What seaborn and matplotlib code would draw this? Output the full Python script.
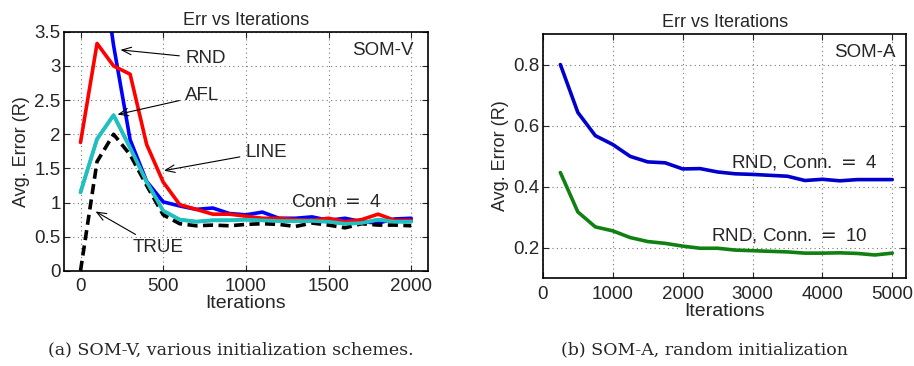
import numpy as np
import pandas as pd
import matplotlib
matplotlib.use("Agg")
import matplotlib.pyplot as plt
import seaborn as sns

# ---- left panel: SOM-V, various initialization schemes ----
iters_v = [0, 100, 200, 300, 400, 500, 600, 700, 800, 900, 1000,
           1100, 1200, 1300, 1400, 1500, 1600, 1700, 1800, 1900, 2000]
rnd_v = [7.0, 5.0, 3.3, 1.92, 1.31, 1.01, 0.95, 0.90, 0.92, 0.84, 0.82,
         0.86, 0.77, 0.77, 0.79, 0.74, 0.77, 0.72, 0.70, 0.76, 0.77]
line_v = [1.88, 3.33, 3.0, 2.88, 1.85, 1.30, 0.97, 0.90, 0.83, 0.83, 0.80,
          0.77, 0.77, 0.75, 0.74, 0.77, 0.72, 0.75, 0.83, 0.74, 0.74]
afl_v = [1.15, 1.93, 2.28, 1.80, 1.30, 0.88, 0.75, 0.72, 0.74, 0.74, 0.75,
         0.74, 0.73, 0.73, 0.73, 0.72, 0.69, 0.70, 0.75, 0.72, 0.72]
true_v = [0.0, 1.60, 2.00, 1.70, 1.25, 0.82, 0.69, 0.66, 0.67, 0.66, 0.68,
          0.69, 0.68, 0.65, 0.70, 0.67, 0.63, 0.69, 0.67, 0.67, 0.66]

# ---- right panel: SOM-A, random initialization ----
iters_a = [250, 500, 750, 1000, 1250, 1500, 1750, 2000, 2250, 2500,
           2750, 3000, 3250, 3500, 3750, 4000, 4250, 4500, 4750, 5000]
conn4_a = [0.80, 0.643, 0.567, 0.538, 0.499, 0.481, 0.478, 0.458, 0.459, 0.448,
           0.442, 0.440, 0.437, 0.434, 0.420, 0.424, 0.419, 0.423, 0.423, 0.423]
conn10_a = [0.446, 0.317, 0.268, 0.255, 0.233, 0.220, 0.214, 0.205, 0.198, 0.198,
            0.192, 0.190, 0.188, 0.186, 0.182, 0.182, 0.183, 0.181, 0.176, 0.182]

sns.set_style("ticks")
plt.rcParams['font.family'] = ['Liberation Sans', 'DejaVu Sans']
plt.rcParams['mathtext.fontset'] = 'dejavusans'

fig = plt.figure(figsize=(9.14, 3.66), dpi=100)
ax1 = fig.add_axes([0.070, 0.260, 0.398, 0.653])
ax2 = fig.add_axes([0.594, 0.240, 0.3975, 0.667])

lw = 2.6
sns.lineplot(x=iters_v, y=rnd_v, color='#0000ff', lw=lw, ax=ax1)
sns.lineplot(x=iters_v, y=afl_v, color='#20c0c0', lw=lw, ax=ax1)
sns.lineplot(x=iters_v, y=true_v, color='black', lw=lw, ax=ax1, linestyle=(0, (2.8, 1.5)))
sns.lineplot(x=iters_v, y=line_v, color='#ff0000', lw=lw, ax=ax1)
# cyan on top again, as in the original tail
sns.lineplot(x=iters_v, y=afl_v, color='#20c0c0', lw=lw, ax=ax1)

sns.lineplot(x=iters_a, y=conn4_a, color='#0000cc', lw=lw, ax=ax2)
sns.lineplot(x=iters_a, y=conn10_a, color='#108010', lw=lw, ax=ax2)

ax1.set_xlim(-100, 2100)
ax1.set_ylim(0, 3.5)
ax1.set_xticks([0, 500, 1000, 1500, 2000])
ax1.set_yticks(np.arange(0, 3.51, 0.5))
ax1.set_yticklabels(['0', '0.5', '1', '1.5', '2', '2.5', '3', '3.5'])

ax2.set_xlim(0, 5200)
ax2.set_ylim(0.1, 0.9)
ax2.set_xticks([0, 1000, 2000, 3000, 4000, 5000])
ax2.set_yticks([0.2, 0.4, 0.6, 0.8])

for ax in (ax1, ax2):
    ax.grid(True, linestyle=(0, (1, 3)), color='#777777', lw=0.8)
    ax.tick_params(direction='in', labelsize=13.5, length=4, width=0.8,
                   top=True, right=True)
    ax.tick_params(axis='x', pad=5.5)
    ax.tick_params(axis='y', pad=2.5)
    for s in ax.spines.values():
        s.set_visible(True)
        s.set_linewidth(1.2)
        s.set_color('black')
    ax.set_title('Err vs Iterations', fontsize=13, pad=5)
    ax.set_xlabel('Iterations', fontsize=14, labelpad=0)
    ax.set_ylabel('Avg. Error (R)', fontsize=13, labelpad=3)

# annotations on left panel
arr = dict(arrowstyle='->,head_length=0.5,head_width=0.2', color='black', lw=0.8)
ax1.annotate('RND', xy=(225, 3.24), xytext=(634, 3.11), fontsize=13.5,
             va='center', ha='left', arrowprops=arr)
ax1.annotate('AFL', xy=(207, 2.28), xytext=(634, 2.57), fontsize=13.5,
             va='center', ha='left', arrowprops=arr)
ax1.annotate('LINE', xy=(488, 1.46), xytext=(1000, 1.74), fontsize=13.5,
             va='center', ha='left', arrowprops=arr)
ax1.annotate('TRUE', xy=(76, 0.89), xytext=(317, 0.34), fontsize=13.5,
             va='center', ha='left', arrowprops=arr)
ax1.text(1271, 1.0, 'Conn $=$ 4', fontsize=13.5, va='center', ha='left')
ax1.text(0.96, 0.92, 'SOM-V', transform=ax1.transAxes, fontsize=13.5,
         va='center', ha='right')

ax2.text(2690, 0.479, 'RND, Conn. $=$ 4', fontsize=13.5, va='center', ha='left')
ax2.text(2400, 0.240, 'RND, Conn. $=$ 10', fontsize=13.5, va='center', ha='left')
ax2.text(0.97, 0.925, 'SOM-A', transform=ax2.transAxes, fontsize=13.5,
         va='center', ha='right')

fig.text(0.252, 0.045, '(a) SOM-V, various initialization schemes.',
         fontsize=12.5, family='DejaVu Serif', ha='center', va='center')
fig.text(0.771, 0.045, '(b) SOM-A, random initialization',
         fontsize=12.5, family='DejaVu Serif', ha='center', va='center')

fig.savefig('out.png', dpi=100)
